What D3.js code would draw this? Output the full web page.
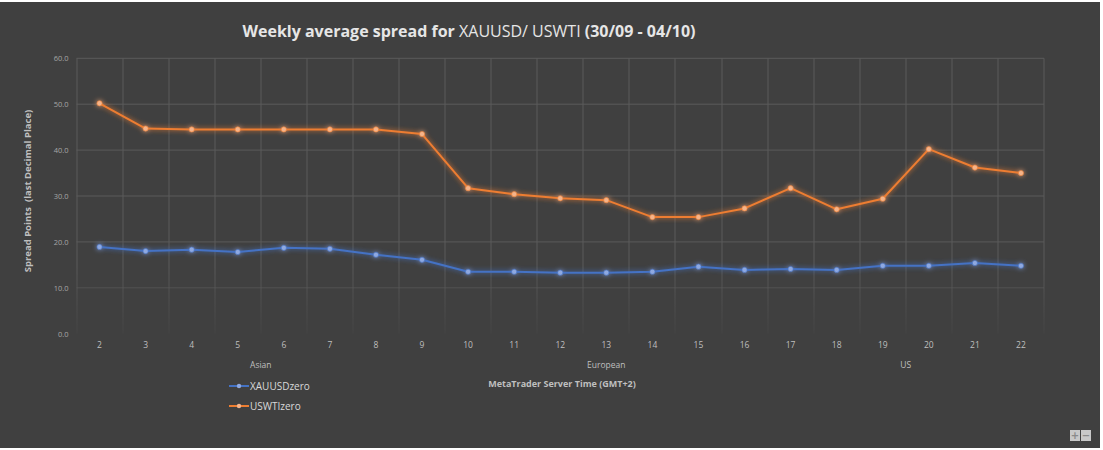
<!DOCTYPE html>
<html><head><meta charset="utf-8">
<script src="https://cdn.jsdelivr.net/npm/d3@7"></script>
<style>
html,body{margin:0;padding:0;background:#fff;}
svg{display:block;}
</style></head>
<body>
<script>
const categories = ["2","3","4","5","6","7","8","9","10","11","12","13","14","15","16","17","18","19","20","21","22"];
const xauusd = [18.9,18.0,18.3,17.8,18.7,18.5,17.2,16.1,13.5,13.5,13.3,13.3,13.5,14.6,13.9,14.1,13.9,14.8,14.8,15.4,14.8];
const uswti  = [50.2,44.7,44.5,44.5,44.5,44.5,44.5,43.5,31.7,30.4,29.5,29.1,25.4,25.4,27.3,31.7,27.1,29.4,40.2,36.2,35.0];
const yTicks = [0,10,20,30,40,50,60];
const sessions = [
  {name:"Asian", from:"2", to:"9"},
  {name:"European", from:"10", to:"16"},
  {name:"US", from:"17", to:"22"}
];
const seriesNames = ["XAUUSDzero","USWTIzero"];
const colors = ["#4472c4","#ed7d31"];
const markerFill = ["#8fa9e0","#f5b48a"];

const W = 1103, H = 450;
const svg = d3.select("body").append("svg").attr("width", W).attr("height", H);

// spreadsheet background strips
svg.append("rect").attr("x",0).attr("y",0).attr("width",W).attr("height",H).attr("fill","#ffffff");
svg.append("rect").attr("x",0).attr("y",2).attr("width",1100).attr("height",446).attr("fill","#404040");

const defs = svg.append("defs");
const glow = defs.append("filter").attr("id","glow").attr("x","-10%").attr("y","-50%").attr("width","120%").attr("height","200%");
glow.append("feGaussianBlur").attr("in","SourceGraphic").attr("stdDeviation",2.8).attr("result","b");
const m = glow.append("feMerge");
m.append("feMergeNode").attr("in","b");
m.append("feMergeNode").attr("in","SourceGraphic");

const fade = defs.append("linearGradient").attr("id","fadeV").attr("x1",0).attr("y1",0).attr("x2",0).attr("y2",1);
fade.append("stop").attr("offset","0%").attr("stop-color","#5a5a5a");
fade.append("stop").attr("offset","75%").attr("stop-color","#5a5a5a");
fade.append("stop").attr("offset","100%").attr("stop-color","#5a5a5a").attr("stop-opacity",0.15);

const pL = 76.5, pR = 1044, pT = 58.3, pB = 333.7;
const x = d3.scaleBand().domain(categories).range([pL, pR]).padding(0);
const y = d3.scaleLinear().domain([0,60]).range([pB, pT]);
const cx = c => x(c) + x.bandwidth()/2;

// horizontal gridlines
svg.append("g").selectAll("line").data(yTicks.filter(t=>t>0)).join("line")
  .attr("x1", pL).attr("x2", pR)
  .attr("y1", d=>y(d)).attr("y2", d=>y(d))
  .attr("stroke", d => d===10 ? "#525252" : "#5a5a5a").attr("stroke-width",1);
// vertical gridlines
const vx = categories.map(c=>x(c)).concat([pR]);
svg.append("g").selectAll("rect").data(vx).join("rect")
  .attr("x", d=>Math.round(d)-0.5).attr("y", pT).attr("width",1).attr("height", pB-pT)
  .attr("fill","url(#fadeV)");

// y axis labels
const yAxis = d3.axisLeft(y).tickValues(yTicks).tickFormat(d3.format(".1f")).tickSize(0).tickPadding(8);
const ga = svg.append("g").attr("transform",`translate(${pL},0)`).call(yAxis);
ga.select(".domain").remove();
ga.selectAll("text").attr("fill","#a6a6a6").attr("font-family","'Open Sans', sans-serif").attr("font-size",7.5);

// x axis labels
const xAxis = d3.axisBottom(x).tickSize(0).tickPadding(0);
const gx = svg.append("g").attr("transform",`translate(0,${pB+8})`).call(xAxis);
gx.select(".domain").remove();
gx.selectAll("text").attr("fill","#bfbfbf").attr("font-family","'Open Sans', sans-serif").attr("font-size",8.5);

// session labels
svg.append("g").selectAll("text").data(sessions).join("text")
  .attr("x", d => (cx(d.from)+cx(d.to))/2).attr("y", 368)
  .attr("text-anchor","middle").attr("fill","#bfbfbf")
  .attr("font-family","'Open Sans', sans-serif").attr("font-size",8.5)
  .text(d=>d.name);

// axis titles
svg.append("text").attr("x", 562).attr("y", 387).attr("text-anchor","middle")
  .attr("fill","#bfbfbf").attr("font-family","'Open Sans', sans-serif").attr("font-size",9).attr("font-weight","bold")
  .text("MetaTrader Server Time (GMT+2)");
svg.append("text").attr("transform","translate(31,191) rotate(-90)").attr("text-anchor","middle")
  .attr("fill","#bfbfbf").attr("font-family","'Open Sans', sans-serif").attr("font-size",9.5).attr("font-weight","bold")
  .attr("xml:space","preserve")
  .text("Spread Points  (last Decimal Place)");

// title
const title = svg.append("text").attr("x", 469).attr("y", 37).attr("text-anchor","middle")
  .attr("fill","#e6e6e6").attr("font-family","'Open Sans', sans-serif").attr("font-size",16);
title.append("tspan").attr("font-weight","bold").text("Weekly average spread for ");
title.append("tspan").attr("font-weight","normal").text("XAUUSD/ USWTI");
title.append("tspan").attr("font-weight","bold").text(" (30/09 - 04/10)");

// series
const line = d3.line().x((d,i)=>cx(categories[i])).y(d=>y(d));
[xauusd, uswti].forEach((vals, si) => {
  const g = svg.append("g").attr("filter","url(#glow)");
  g.append("path").datum(vals).attr("d", line).attr("fill","none")
    .attr("stroke", colors[si]).attr("stroke-width",2).attr("stroke-linejoin","round");
  g.selectAll("circle").data(vals).join("circle")
    .attr("cx",(d,i)=>cx(categories[i])).attr("cy",d=>y(d)).attr("r",2.6)
    .attr("fill", markerFill[si]).attr("stroke", colors[si]).attr("stroke-width",0.6);
});

// legend
const lg = svg.append("g");
seriesNames.forEach((n, i) => {
  const ly = 386 + i*20;
  lg.append("line").attr("x1",229).attr("x2",249).attr("y1",ly).attr("y2",ly).attr("stroke",colors[i]).attr("stroke-width",2);
  lg.append("circle").attr("cx",239).attr("cy",ly).attr("r",2.2).attr("fill",markerFill[i]);
  lg.append("text").attr("x",250).attr("y",ly+3.8).attr("fill","#d9d9d9")
    .attr("font-family","'Open Sans', sans-serif").attr("font-size",10).text(n);
});

// zoom buttons
const zb = svg.append("g");
[["+",1070],["\u2212",1081]].forEach(([t,bx]) => {
  zb.append("rect").attr("x",bx).attr("y",430).attr("width",10).attr("height",11).attr("fill","#c8c8c8");
  zb.append("text").attr("x",bx+5).attr("y",439).attr("text-anchor","middle").attr("fill","#8a8a8a")
    .attr("font-family","'DejaVu Sans', sans-serif").attr("font-size",10).attr("font-weight","bold").text(t);
});
</script>
</body></html>
